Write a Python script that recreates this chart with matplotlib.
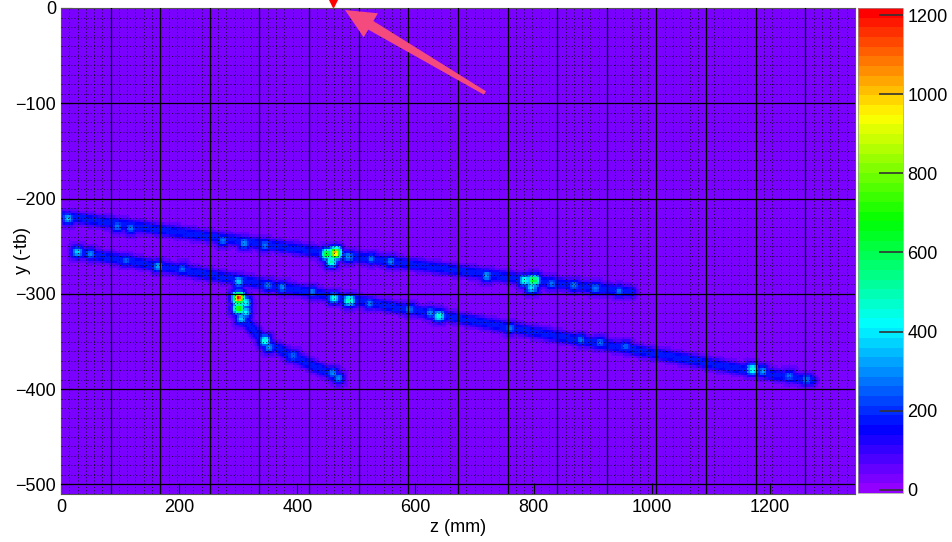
import colorsys
import numpy as np
import matplotlib
matplotlib.use("Agg")
import matplotlib.pyplot as plt
from matplotlib.colors import ListedColormap, Normalize
from matplotlib.patches import Polygon

plt.rcParams['font.family'] = ['Liberation Sans', 'DejaVu Sans']

# Tory (z w mm, y w -tb)
track_a_z = [0, 460, 800, 965]
track_a_y = [-218, -258, -286, -298]
track_b_z = [25, 300, 640, 1170, 1270]
track_b_y = [-256, -285, -322, -381, -391]
branch_z = [297, 300, 305, 318, 345, 400, 472]
branch_y = [-285, -300, -320, -333, -350, -368, -388]
track_charge = 150
background = 35

# Jasne punkty wzdłuż torów
blob_z = [12, 95, 118, 275, 310, 345, 450, 465, 458, 487, 525, 558, 720, 785, 800, 797, 830, 868, 905, 945,
          28, 50, 110, 165, 205, 300, 350, 375, 425, 462, 488, 522, 590, 625, 640, 760, 880, 912, 955, 1170, 1188, 1232, 1262,
          300, 300, 312, 312, 305, 345, 352, 392, 460, 470]
blob_y = [-221, -229, -231, -244, -247, -249, -258, -257, -266, -261, -263, -266, -281, -286, -286, -293, -289, -291, -294, -297,
          -256, -258, -265, -271, -274, -287, -291, -293, -298, -304, -307, -310, -316, -320, -323, -336, -348, -351, -355, -379, -381, -386, -390,
          -304, -315, -309, -319, -326, -349, -356, -365, -383, -388]
blob_q = [330, 250, 250, 250, 280, 250, 650, 1020, 500, 280, 240, 260, 300, 440, 640, 380, 250, 250, 250, 240,
          340, 260, 230, 300, 230, 350, 250, 260, 250, 420, 480, 250, 240, 280, 450, 250, 240, 250, 230, 450, 280, 250, 250,
          1180, 720, 420, 400, 350, 440, 280, 240, 270, 260]

z_edges = np.arange(0, 1344 + 3.5, 3.5)
y_edges = np.arange(-510, 0 + 2.5, 2.5)

# skala pikseli (żeby szerokość toru była taka sama w obu kierunkach)
sx, sy = 0.591, 0.952
zc = (z_edges[:-1] + z_edges[1:]) / 2
yc = (y_edges[:-1] + y_edges[1:]) / 2
Z, Y = np.meshgrid(zc, yc)
PX, PY = Z * sx, Y * sy


def polyline_dist(zs, ys):
    best = np.full(PX.shape, np.inf)
    for i in range(len(zs) - 1):
        x0, y0 = zs[i] * sx, ys[i] * sy
        x1, y1 = zs[i + 1] * sx, ys[i + 1] * sy
        dx, dy = x1 - x0, y1 - y0
        t = ((PX - x0) * dx + (PY - y0) * dy) / (dx * dx + dy * dy)
        t = np.clip(t, 0, 1)
        d = np.hypot(PX - (x0 + t * dx), PY - (y0 + t * dy))
        best = np.minimum(best, d)
    return best


d = np.minimum(np.minimum(polyline_dist(track_a_z, track_a_y), polyline_dist(track_b_z, track_b_y)),
               polyline_dist(branch_z, branch_y))
signal = track_charge * np.exp(-(d / 5.5) ** 2.5)
for bz, by, bq in zip(blob_z, blob_y, blob_q):
    r = (np.abs((Z - bz) * sx) ** 3 + np.abs((Y - by) * sy) ** 3) ** (1 / 3)
    signal = np.maximum(signal, bq * np.exp(-(r / 5.5) ** 2))
H = background + signal

# paleta "pretty" z ROOT-a (50 kolorów, fiolet -> czerwony)
colors = [colorsys.hls_to_rgb((280 - (i + 1) * 5.6) / 360, 0.5, 1.0) for i in range(50)]
cmap = ListedColormap(colors)
norm = Normalize(vmin=-8, vmax=1218)

fig = plt.figure(figsize=(9.53, 5.42), dpi=100)
ax = fig.add_axes([61 / 953, 48 / 542, 794 / 953, 486 / 542])
im = ax.imshow(H, cmap=cmap, norm=norm, origin='lower', aspect='auto',
               extent=(z_edges[0], z_edges[-1], y_edges[0], y_edges[-1]), interpolation='nearest')
ax.set_xlim(0, 1344)
ax.set_ylim(-510, 0)

for z in np.arange(14, 1344, 14):
    if z % 84 == 0:
        ax.axvline(z, color='black', lw=0.9, zorder=3)
    else:
        ax.axvline(z, color='black', lw=0.65, ls=(0, (1.2, 2.4)), alpha=0.8, zorder=3)
for y in np.arange(-500, 0, 10):
    if y % 100 == 0:
        ax.axhline(y, color='black', lw=0.9, zorder=3)
    else:
        ax.axhline(y, color='black', lw=0.65, ls=(0, (1.2, 2.4)), alpha=0.8, zorder=3)

ax.set_xticks(range(0, 1201, 200))
ax.set_yticks(range(-500, 1, 100))
ax.tick_params(direction='in', labelsize=13, length=8)
for s in ax.spines.values():
    s.set_color('#555555')
    s.set_linewidth(0.8)
ax.set_xlabel("z (mm)", fontsize=13)
ax.set_ylabel("y (-tb)", fontsize=13)
ax.xaxis.label.set_va('center')
ax.yaxis.label.set_va('center')
ax.xaxis.set_label_coords(0.5, -0.068)
ax.yaxis.set_label_coords(-0.049, 0.5)

# marker nad wykresem
ax.plot([460], [6.2], marker='v', color='red', markersize=7, clip_on=False, zorder=5)

# strzałka (w pikselach obrazka, y w dół)
tip = np.array([345.0, 10.0])
tail = np.array([485.0, 93.0])
u = (tip - tail) / np.hypot(*(tip - tail))
n = np.array([-u[1], u[0]])
base = tip - 30 * u
pts = [tip, base + 14 * n, base + 5 * n, tail + 2 * n, tail - 2 * n, base - 5 * n, base - 14 * n]
pts = [(p[0], 542 - p[1]) for p in pts]
fig.patches.append(Polygon(pts, closed=True, transform=None, facecolor='#f44a7e', edgecolor='none', zorder=6))

cax = fig.add_axes([858 / 953, 49 / 542, 45 / 953, 485 / 542])
cb = fig.colorbar(im, cax=cax)
cb.set_ticks(range(0, 1201, 200))
cb.ax.tick_params(direction='in', length=17, width=1.2, color='#333333', labelsize=13, pad=3)
cb.outline.set_linewidth(0.5)
cb.outline.set_edgecolor('#999999')

fig.savefig("out.png", dpi=100)
